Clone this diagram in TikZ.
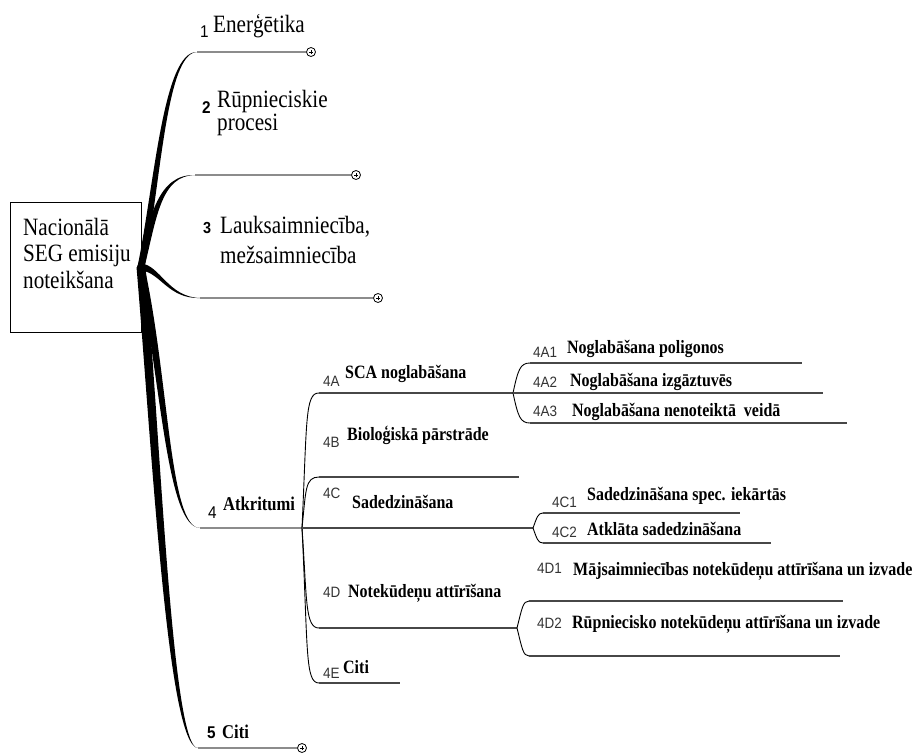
\documentclass[tikz,border=0pt]{standalone}
\usepackage{fontspec}
\setmainfont{Liberation Serif}[FakeStretch=0.85]
\newfontfamily\codefont{Liberation Sans}[FakeStretch=0.9]
\begin{document}
\begin{tikzpicture}[x=1pt,y=-1pt,
  lone/.style={line width=1.8pt, black!45},
  ltwo/.style={line width=1.2pt, black!72},
  conn/.style={line width=0.9pt, black},
  trunk/.style={fill=black},
  lab1/.style={anchor=base west, inner sep=0, align=left, font=\fontsize{24.9}{26.5}\selectfont},
  lab1b/.style={anchor=base west, inner sep=0, font=\fontsize{19.5}{20}\selectfont\bfseries},
  lab2/.style={anchor=base west, inner sep=0, font=\fontsize{18.8}{20}\selectfont\bfseries},
  code/.style={anchor=base west, inner sep=0, font=\codefont\fontsize{15}{16}\selectfont, text=black!80},
  num/.style={anchor=base west, inner sep=0, font=\codefont\fontsize{17}{19}\selectfont},
  plusc/.style={circle, draw, line width=0.8pt, minimum size=9pt, inner sep=0, fill=white,
    path picture={\draw[line width=0.5pt] ([xshift=-2pt]path picture bounding box.center) -- ([xshift=2pt]path picture bounding box.center);
                  \draw[line width=0.5pt] ([yshift=-2pt]path picture bounding box.center) -- ([yshift=2pt]path picture bounding box.center);}},
]
\useasboundingbox (0,0) rectangle (918,753);

% root
\node[draw, line width=0.8pt, minimum width=131pt, minimum height=130pt, inner sep=0] (root) at (75.5,267) {};
\node[lab1] (roottext) at (23,288) {Nacionālā\\SEG emisiju\\noteikšana};

\coordinate (hub) at (141,267);
% level-1 end points
\coordinate (e1) at (197,52);
\coordinate (e2) at (195,175);
\coordinate (e3) at (200,298);
\coordinate (e4) at (200,528);
\coordinate (e5) at (198,748);
\node[plusc] (c1) at (311,52) {};
\node[plusc] (c2) at (356,175) {};
\node[plusc] (c3) at (378,298) {};
\node[plusc] (c5) at (302,748) {};
\coordinate (j4) at (302,528);

% tapered trunks
\fill[trunk] (137.5,267) .. controls (155,180) and (163.5,51.2) .. (e1) .. controls (166.5,52.8) and (161,180) .. (144.5,267) -- cycle;
\fill[trunk] (137.5,267) .. controls (150,215) and (158.5,174.2) .. (e2) .. controls (161.5,175.8) and (157,215) .. (144.5,267) -- cycle;
\fill[trunk] (141,263.5) .. controls (160,265) and (168,297) .. (e3) .. controls (168,299) and (160,272) .. (141,270.5) -- cycle;
\fill[trunk] (137.5,267) .. controls (161,380) and (166.5,527.2) .. (e4) .. controls (169.5,528.8) and (169,380) .. (144.5,267) -- cycle;
\fill[trunk] (136.5,267) .. controls (152,450) and (167.5,746.8) .. (e5) .. controls (172.5,749.2) and (161,450) .. (145.5,267) -- cycle;
\fill[black] (hub) circle (4);

% level-1 lines
\draw[lone] (e1) -- (c1.west);
\draw[lone] (e2) -- (c2.west);
\draw[lone] (e3) -- (c3.west);
\draw[lone] (e4) -- (j4);
\draw[lone] (e5) -- (c5.west);

% level-1 labels
\node[num] (n1) at (200,37) {1};
\node[lab1] (t1) at (213,32) {Enerģētika};
\node[num, font=\codefont\bfseries\fontsize{17}{19}\selectfont] (n2) at (202,113) {2};
\node[lab1, font=\fontsize{24.9}{23}\selectfont] (t2) at (217,130) {Rūpnieciskie\\procesi};
\node[num, font=\codefont\bfseries\fontsize{16}{19}\selectfont] (n3) at (203,233) {3};
\node[lab1, font=\fontsize{24.9}{30}\selectfont] (t3) at (220,263) {Lauksaimniecība,\\mežsaimniecība};
\node[num] (n4) at (208,518) {4};
\node[lab1b] (t4) at (223,510) {Atkritumi};
\node[num, font=\codefont\bfseries\fontsize{17}{19}\selectfont] (n5) at (207,738) {5};
\node[lab1b] (t5) at (222,738) {Citi};

% level-2 coordinates
\coordinate (a0) at (319,393); \coordinate (ja) at (513,393);
\coordinate (b0) at (319,477); \coordinate (b1) at (519,477);
\coordinate (jc) at (533,528);
\coordinate (d0) at (319,628); \coordinate (jd) at (517,628);
\coordinate (f0) at (319,683); \coordinate (f1) at (400,683);

\draw[conn] (j4) .. controls (307,420) and (305,393) .. (a0);
\draw[conn] (j4) .. controls (306,490) and (305,477) .. (b0);
\draw[conn] (j4) .. controls (307,600) and (305,628) .. (d0);
\draw[conn] (j4) .. controls (308,650) and (305,683) .. (f0);
\draw[ltwo] (a0) -- (ja);
\draw[ltwo] (b0) -- (b1);
\draw[ltwo] (j4) -- (jc);
\draw[ltwo] (d0) -- (jd);
\draw[ltwo] (f0) -- (f1);

\node[code] (k4a) at (323,386) {4A};
\node[lab2] (l4a) at (345,378) {SCA noglabāšana};
\node[code] (k4b) at (323,447) {4B};
\node[lab2] (l4b) at (347,440) {Bioloģiskā pārstrāde};
\node[code] (k4c) at (323,498) {4C};
\node[lab2] (l4c) at (352,508) {Sadedzināšana};
\node[code] (k4d) at (323,597) {4D};
\node[lab2] (l4d) at (348,597) {Notekūdeņu attīrīšana};
\node[code] (k4e) at (323,678) {4E};
\node[lab2] (l4e) at (343,673) {Citi};

% level-3
\coordinate (a1s) at (530,363); \coordinate (a1e) at (802,363);
\coordinate (a2e) at (823,393);
\coordinate (a3s) at (530,423); \coordinate (a3e) at (847,423);
\coordinate (c1s) at (543,513); \coordinate (c1e) at (740,513);
\coordinate (c2s) at (543,543); \coordinate (c2e) at (771,543);
\coordinate (d1s) at (529,601); \coordinate (d1e) at (843,601);
\coordinate (d2s) at (529,656); \coordinate (d2e) at (840,656);

\draw[conn] (ja) .. controls (518,370) and (520,363) .. (a1s);
\draw[conn] (ja) .. controls (518,416) and (520,423) .. (a3s);
\draw[conn] (jc) .. controls (537,517) and (538,513) .. (c1s);
\draw[conn] (jc) .. controls (537,539) and (538,543) .. (c2s);
\draw[conn] (jd) .. controls (522,608) and (523,601) .. (d1s);
\draw[conn] (jd) .. controls (522,648) and (523,656) .. (d2s);
\draw[ltwo] (a1s) -- (a1e);
\draw[ltwo] (ja) -- (a2e);
\draw[ltwo] (a3s) -- (a3e);
\draw[ltwo] (c1s) -- (c1e);
\draw[ltwo] (c2s) -- (c2e);
\draw[ltwo] (d1s) -- (d1e);
\draw[ltwo] (d2s) -- (d2e);

\node[code] (k4a1) at (533,357) {4A1};
\node[lab2] (l4a1) at (567,353) {Noglabāšana poligonos};
\node[code] (k4a2) at (533,387) {4A2};
\node[lab2] (l4a2) at (570,386) {Noglabāšana izgāztuvēs};
\node[code] (k4a3) at (533,416) {4A3};
\node[lab2] (l4a3) at (572,416) {Noglabāšana nenoteiktā\ \ veidā};
\node[code] (k4c1) at (552,507) {4C1};
\node[lab2] (l4c1) at (587,500) {Sadedzināšana spec. iekārtās};
\node[code] (k4c2) at (552,537) {4C2};
\node[lab2] (l4c2) at (587,535) {Atklāta sadedzināšana};
\node[code] (k4d1) at (537,573) {4D1};
\node[lab2] (l4d1) at (573,575) {Mājsaimniecības notekūdeņu attīrīšana un izvade};
\node[code] (k4d2) at (537,628) {4D2};
\node[lab2] (l4d2) at (572,628) {Rūpniecisko notekūdeņu attīrīšana un izvade};
\end{tikzpicture}
\end{document}
